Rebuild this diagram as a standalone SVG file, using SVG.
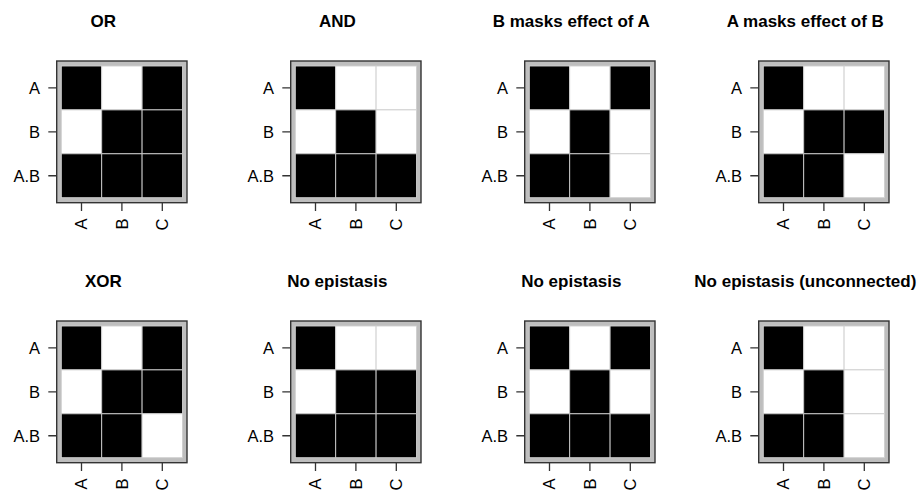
<svg xmlns="http://www.w3.org/2000/svg" width="922" height="491" viewBox="0 0 922 491">
<style>
text{font-family:"Liberation Sans",Arial,Helvetica,sans-serif;fill:#000}
.title{font-size:17px;font-weight:bold;text-anchor:middle}
.lab{font-size:16.5px;text-anchor:end}
.bg{fill:#bebebe;stroke:none}
.frame{fill:none;stroke:#333;stroke-width:1.4}
.k{fill:#000;stroke:#cfcfcf;stroke-width:0.9}
.w{fill:#fff;stroke:#cfcfcf;stroke-width:0.9}
.tick{fill:none;stroke:#333;stroke-width:1.3}
</style>
<rect width="922" height="491" fill="#fff"/>

<g id="panel-or" transform="translate(0,0)">
<text class="title" x="103.3" y="26.7">OR</text>
<rect class="bg" x="56.7" y="61" width="130.3" height="141.7"/>
<rect class="k" x="61.3" y="66" width="40.4" height="43.9"/><rect class="w" x="101.7" y="66" width="40.4" height="43.9"/><rect class="k" x="142.1" y="66" width="40.4" height="43.9"/>
<rect class="w" x="61.3" y="109.9" width="40.4" height="43.9"/><rect class="k" x="101.7" y="109.9" width="40.4" height="43.9"/><rect class="k" x="142.1" y="109.9" width="40.4" height="43.9"/>
<rect class="k" x="61.3" y="153.8" width="40.4" height="43.9"/><rect class="k" x="101.7" y="153.8" width="40.4" height="43.9"/><rect class="k" x="142.1" y="153.8" width="40.4" height="43.9"/>
<rect class="frame" x="56.7" y="61" width="130.3" height="141.7"/>
<path class="tick" d="M48.3 87.95H56.7M48.3 131.85H56.7M48.3 175.75H56.7M81.5 202.7V211M121.9 202.7V211M162.3 202.7V211"/>
<text class="lab" x="40" y="94">A</text><text class="lab" x="40" y="137.9">B</text><text class="lab" x="40" y="181.8">A.B</text>
<text class="lab" transform="translate(87.3,218.5) rotate(-90)">A</text><text class="lab" transform="translate(127.7,218.5) rotate(-90)">B</text><text class="lab" transform="translate(168.1,218.5) rotate(-90)">C</text>
</g>

<g id="panel-and" transform="translate(234,0)">
<text class="title" x="103.3" y="26.7">AND</text>
<rect class="bg" x="56.7" y="61" width="130.3" height="141.7"/>
<rect class="k" x="61.3" y="66" width="40.4" height="43.9"/><rect class="w" x="101.7" y="66" width="40.4" height="43.9"/><rect class="w" x="142.1" y="66" width="40.4" height="43.9"/>
<rect class="w" x="61.3" y="109.9" width="40.4" height="43.9"/><rect class="k" x="101.7" y="109.9" width="40.4" height="43.9"/><rect class="w" x="142.1" y="109.9" width="40.4" height="43.9"/>
<rect class="k" x="61.3" y="153.8" width="40.4" height="43.9"/><rect class="k" x="101.7" y="153.8" width="40.4" height="43.9"/><rect class="k" x="142.1" y="153.8" width="40.4" height="43.9"/>
<rect class="frame" x="56.7" y="61" width="130.3" height="141.7"/>
<path class="tick" d="M48.3 87.95H56.7M48.3 131.85H56.7M48.3 175.75H56.7M81.5 202.7V211M121.9 202.7V211M162.3 202.7V211"/>
<text class="lab" x="40" y="94">A</text><text class="lab" x="40" y="137.9">B</text><text class="lab" x="40" y="181.8">A.B</text>
<text class="lab" transform="translate(87.3,218.5) rotate(-90)">A</text><text class="lab" transform="translate(127.7,218.5) rotate(-90)">B</text><text class="lab" transform="translate(168.1,218.5) rotate(-90)">C</text>
</g>

<g id="panel-b-masks-a" transform="translate(468,0)">
<text class="title" x="103.3" y="26.7">B masks effect of A</text>
<rect class="bg" x="56.7" y="61" width="130.3" height="141.7"/>
<rect class="k" x="61.3" y="66" width="40.4" height="43.9"/><rect class="w" x="101.7" y="66" width="40.4" height="43.9"/><rect class="k" x="142.1" y="66" width="40.4" height="43.9"/>
<rect class="w" x="61.3" y="109.9" width="40.4" height="43.9"/><rect class="k" x="101.7" y="109.9" width="40.4" height="43.9"/><rect class="w" x="142.1" y="109.9" width="40.4" height="43.9"/>
<rect class="k" x="61.3" y="153.8" width="40.4" height="43.9"/><rect class="k" x="101.7" y="153.8" width="40.4" height="43.9"/><rect class="w" x="142.1" y="153.8" width="40.4" height="43.9"/>
<rect class="frame" x="56.7" y="61" width="130.3" height="141.7"/>
<path class="tick" d="M48.3 87.95H56.7M48.3 131.85H56.7M48.3 175.75H56.7M81.5 202.7V211M121.9 202.7V211M162.3 202.7V211"/>
<text class="lab" x="40" y="94">A</text><text class="lab" x="40" y="137.9">B</text><text class="lab" x="40" y="181.8">A.B</text>
<text class="lab" transform="translate(87.3,218.5) rotate(-90)">A</text><text class="lab" transform="translate(127.7,218.5) rotate(-90)">B</text><text class="lab" transform="translate(168.1,218.5) rotate(-90)">C</text>
</g>

<g id="panel-a-masks-b" transform="translate(702,0)">
<text class="title" x="103.3" y="26.7">A masks effect of B</text>
<rect class="bg" x="56.7" y="61" width="130.3" height="141.7"/>
<rect class="k" x="61.3" y="66" width="40.4" height="43.9"/><rect class="w" x="101.7" y="66" width="40.4" height="43.9"/><rect class="w" x="142.1" y="66" width="40.4" height="43.9"/>
<rect class="w" x="61.3" y="109.9" width="40.4" height="43.9"/><rect class="k" x="101.7" y="109.9" width="40.4" height="43.9"/><rect class="k" x="142.1" y="109.9" width="40.4" height="43.9"/>
<rect class="k" x="61.3" y="153.8" width="40.4" height="43.9"/><rect class="k" x="101.7" y="153.8" width="40.4" height="43.9"/><rect class="w" x="142.1" y="153.8" width="40.4" height="43.9"/>
<rect class="frame" x="56.7" y="61" width="130.3" height="141.7"/>
<path class="tick" d="M48.3 87.95H56.7M48.3 131.85H56.7M48.3 175.75H56.7M81.5 202.7V211M121.9 202.7V211M162.3 202.7V211"/>
<text class="lab" x="40" y="94">A</text><text class="lab" x="40" y="137.9">B</text><text class="lab" x="40" y="181.8">A.B</text>
<text class="lab" transform="translate(87.3,218.5) rotate(-90)">A</text><text class="lab" transform="translate(127.7,218.5) rotate(-90)">B</text><text class="lab" transform="translate(168.1,218.5) rotate(-90)">C</text>
</g>

<g id="panel-xor" transform="translate(0,260)">
<text class="title" x="103.3" y="26.7">XOR</text>
<rect class="bg" x="56.7" y="61" width="130.3" height="141.7"/>
<rect class="k" x="61.3" y="66" width="40.4" height="43.9"/><rect class="w" x="101.7" y="66" width="40.4" height="43.9"/><rect class="k" x="142.1" y="66" width="40.4" height="43.9"/>
<rect class="w" x="61.3" y="109.9" width="40.4" height="43.9"/><rect class="k" x="101.7" y="109.9" width="40.4" height="43.9"/><rect class="k" x="142.1" y="109.9" width="40.4" height="43.9"/>
<rect class="k" x="61.3" y="153.8" width="40.4" height="43.9"/><rect class="k" x="101.7" y="153.8" width="40.4" height="43.9"/><rect class="w" x="142.1" y="153.8" width="40.4" height="43.9"/>
<rect class="frame" x="56.7" y="61" width="130.3" height="141.7"/>
<path class="tick" d="M48.3 87.95H56.7M48.3 131.85H56.7M48.3 175.75H56.7M81.5 202.7V211M121.9 202.7V211M162.3 202.7V211"/>
<text class="lab" x="40" y="94">A</text><text class="lab" x="40" y="137.9">B</text><text class="lab" x="40" y="181.8">A.B</text>
<text class="lab" transform="translate(87.3,218.5) rotate(-90)">A</text><text class="lab" transform="translate(127.7,218.5) rotate(-90)">B</text><text class="lab" transform="translate(168.1,218.5) rotate(-90)">C</text>
</g>

<g id="panel-no-epistasis-1" transform="translate(234,260)">
<text class="title" x="103.3" y="26.7">No epistasis</text>
<rect class="bg" x="56.7" y="61" width="130.3" height="141.7"/>
<rect class="k" x="61.3" y="66" width="40.4" height="43.9"/><rect class="w" x="101.7" y="66" width="40.4" height="43.9"/><rect class="w" x="142.1" y="66" width="40.4" height="43.9"/>
<rect class="w" x="61.3" y="109.9" width="40.4" height="43.9"/><rect class="k" x="101.7" y="109.9" width="40.4" height="43.9"/><rect class="k" x="142.1" y="109.9" width="40.4" height="43.9"/>
<rect class="k" x="61.3" y="153.8" width="40.4" height="43.9"/><rect class="k" x="101.7" y="153.8" width="40.4" height="43.9"/><rect class="k" x="142.1" y="153.8" width="40.4" height="43.9"/>
<rect class="frame" x="56.7" y="61" width="130.3" height="141.7"/>
<path class="tick" d="M48.3 87.95H56.7M48.3 131.85H56.7M48.3 175.75H56.7M81.5 202.7V211M121.9 202.7V211M162.3 202.7V211"/>
<text class="lab" x="40" y="94">A</text><text class="lab" x="40" y="137.9">B</text><text class="lab" x="40" y="181.8">A.B</text>
<text class="lab" transform="translate(87.3,218.5) rotate(-90)">A</text><text class="lab" transform="translate(127.7,218.5) rotate(-90)">B</text><text class="lab" transform="translate(168.1,218.5) rotate(-90)">C</text>
</g>

<g id="panel-no-epistasis-2" transform="translate(468,260)">
<text class="title" x="103.3" y="26.7">No epistasis</text>
<rect class="bg" x="56.7" y="61" width="130.3" height="141.7"/>
<rect class="k" x="61.3" y="66" width="40.4" height="43.9"/><rect class="w" x="101.7" y="66" width="40.4" height="43.9"/><rect class="k" x="142.1" y="66" width="40.4" height="43.9"/>
<rect class="w" x="61.3" y="109.9" width="40.4" height="43.9"/><rect class="k" x="101.7" y="109.9" width="40.4" height="43.9"/><rect class="w" x="142.1" y="109.9" width="40.4" height="43.9"/>
<rect class="k" x="61.3" y="153.8" width="40.4" height="43.9"/><rect class="k" x="101.7" y="153.8" width="40.4" height="43.9"/><rect class="k" x="142.1" y="153.8" width="40.4" height="43.9"/>
<rect class="frame" x="56.7" y="61" width="130.3" height="141.7"/>
<path class="tick" d="M48.3 87.95H56.7M48.3 131.85H56.7M48.3 175.75H56.7M81.5 202.7V211M121.9 202.7V211M162.3 202.7V211"/>
<text class="lab" x="40" y="94">A</text><text class="lab" x="40" y="137.9">B</text><text class="lab" x="40" y="181.8">A.B</text>
<text class="lab" transform="translate(87.3,218.5) rotate(-90)">A</text><text class="lab" transform="translate(127.7,218.5) rotate(-90)">B</text><text class="lab" transform="translate(168.1,218.5) rotate(-90)">C</text>
</g>

<g id="panel-no-epistasis-unconnected" transform="translate(702,260)">
<text class="title" x="103.3" y="26.7">No epistasis (unconnected)</text>
<rect class="bg" x="56.7" y="61" width="130.3" height="141.7"/>
<rect class="k" x="61.3" y="66" width="40.4" height="43.9"/><rect class="w" x="101.7" y="66" width="40.4" height="43.9"/><rect class="w" x="142.1" y="66" width="40.4" height="43.9"/>
<rect class="w" x="61.3" y="109.9" width="40.4" height="43.9"/><rect class="k" x="101.7" y="109.9" width="40.4" height="43.9"/><rect class="w" x="142.1" y="109.9" width="40.4" height="43.9"/>
<rect class="k" x="61.3" y="153.8" width="40.4" height="43.9"/><rect class="k" x="101.7" y="153.8" width="40.4" height="43.9"/><rect class="w" x="142.1" y="153.8" width="40.4" height="43.9"/>
<rect class="frame" x="56.7" y="61" width="130.3" height="141.7"/>
<path class="tick" d="M48.3 87.95H56.7M48.3 131.85H56.7M48.3 175.75H56.7M81.5 202.7V211M121.9 202.7V211M162.3 202.7V211"/>
<text class="lab" x="40" y="94">A</text><text class="lab" x="40" y="137.9">B</text><text class="lab" x="40" y="181.8">A.B</text>
<text class="lab" transform="translate(87.3,218.5) rotate(-90)">A</text><text class="lab" transform="translate(127.7,218.5) rotate(-90)">B</text><text class="lab" transform="translate(168.1,218.5) rotate(-90)">C</text>
</g>
</svg>
